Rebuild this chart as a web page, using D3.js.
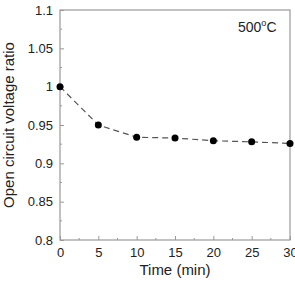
<!DOCTYPE html>
<html><head><meta charset="utf-8">
<script src="https://cdn.jsdelivr.net/npm/d3@7"></script>
<style>body{margin:0;background:#fff}svg{display:block}text{font-family:"Liberation Sans",Arial,sans-serif;fill:#222}</style>
</head><body><svg id="c" width="295" height="281"></svg>
<script>
const times = [0, 5, 10, 15, 20, 25, 30];
const ratios = [1.0, 0.95, 0.934, 0.933, 0.9295, 0.928, 0.926];
const xTicks = [0, 5, 10, 15, 20, 25, 30];
const yTicks = [0.8, 0.85, 0.9, 0.95, 1, 1.05, 1.1];
const label = "500";

const svg = d3.select("#c");
const m = {l:60, t:10, r:290, b:240};
const x = d3.scaleLinear().domain([0,30]).range([m.l, m.r]);
const y = d3.scaleLinear().domain([0.8,1.1]).range([m.b, m.t]);
const axCol = "#999";

// frame
svg.append("rect").attr("x",m.l).attr("y",m.t).attr("width",m.r-m.l).attr("height",m.b-m.t)
  .attr("fill","none").attr("stroke",axCol).attr("stroke-width",1.2);

// x axis
const xa = svg.append("g").attr("transform",`translate(0,${m.b})`)
  .call(d3.axisBottom(x).tickValues(xTicks).tickSize(-4).tickPadding(8).tickFormat(d3.format("d")));
xa.select(".domain").remove();
xa.selectAll("line").attr("stroke",axCol);
xa.selectAll("text").attr("font-size",13).attr("fill","#222");
const xMinor = d3.range(2.5,30,5);
svg.append("g").selectAll("line").data(xMinor).join("line")
  .attr("x1",d=>x(d)).attr("x2",d=>x(d)).attr("y1",m.b).attr("y2",m.b-2).attr("stroke",axCol);

// y axis
const ya = svg.append("g").attr("transform",`translate(${m.l},0)`)
  .call(d3.axisLeft(y).tickValues(yTicks).tickSize(-4).tickPadding(7).tickFormat(d=>String(+d.toFixed(2))));
ya.select(".domain").remove();
ya.selectAll("line").attr("stroke",axCol);
ya.selectAll("text").attr("font-size",13).attr("fill","#222");
const yMinor = d3.range(0.825,1.1,0.05);
svg.append("g").selectAll("line").data(yMinor).join("line")
  .attr("x1",m.l).attr("x2",m.l+2).attr("y1",d=>y(d)).attr("y2",d=>y(d)).attr("stroke",axCol);

// line
const pts = times.map((t,i)=>[t,ratios[i]]);
svg.append("path").datum(pts)
  .attr("d", d3.line().x(d=>x(d[0])).y(d=>y(d[1])))
  .attr("fill","none").attr("stroke","#555").attr("stroke-width",1.2).attr("stroke-dasharray","6,4");
svg.append("g").selectAll("circle").data(pts).join("circle")
  .attr("cx",d=>x(d[0])).attr("cy",d=>y(d[1])).attr("r",3.5).attr("fill","#000");

// annotation
const t = svg.append("text").attr("x",238).attr("y",32).attr("font-size",14);
t.append("tspan").text(label);
t.append("tspan").attr("dy",-6).attr("font-size",9).text("o");
t.append("tspan").attr("dy",6).text("C");

// titles
svg.append("text").attr("x",(m.l+m.r)/2).attr("y",275).attr("text-anchor","middle").attr("font-size",15).text("Time (min)");
svg.append("text").attr("transform",`translate(14,${(m.t+m.b)/2}) rotate(-90)`).attr("text-anchor","middle").attr("font-size",15).text("Open circuit voltage ratio");
</script></body></html>
